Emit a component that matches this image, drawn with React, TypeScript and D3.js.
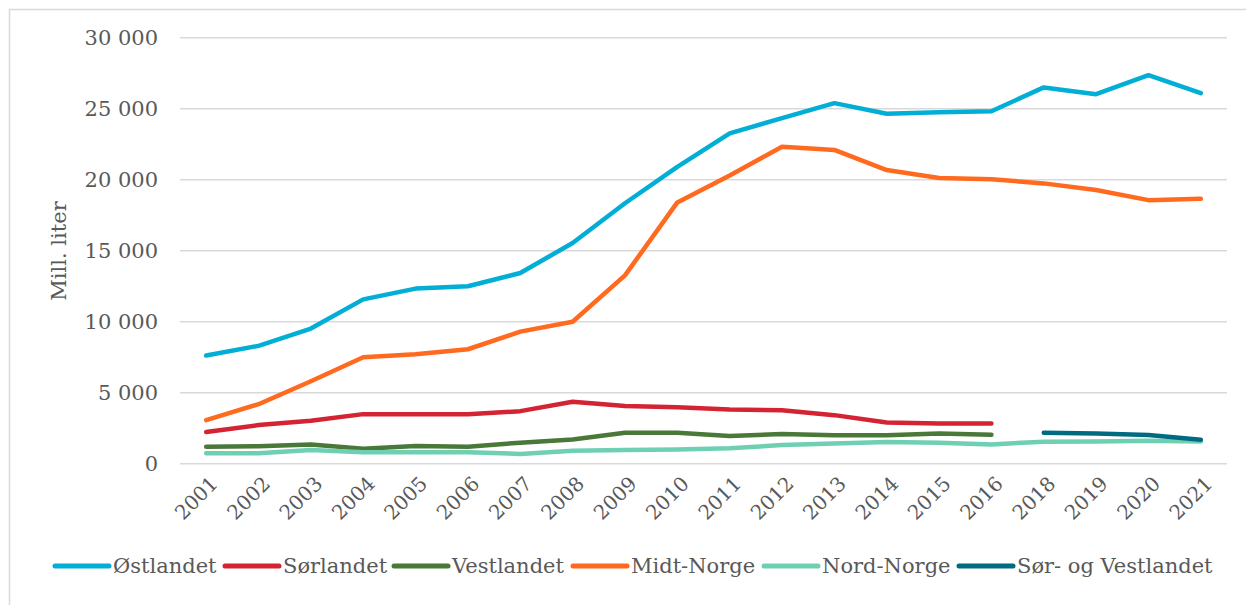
import React from "react";
import * as d3 from "d3";

const categories = ["2001","2002","2003","2004","2005","2006","2007","2008","2009","2010","2011","2012","2013","2014","2015","2016","2018","2019","2020","2021"];
const ostlandet = [7620, 8300, 9520, 11570, 12330, 12500, 13430, 15540, 18340, 20900, 23260, 24340, 25390, 24650, 24750, 24820, 26500, 26020, 27360, 26100];
const sorlandet = [2230, 2720, 3020, 3490, 3490, 3480, 3700, 4360, 4060, 3970, 3820, 3770, 3420, 2900, 2830, 2830, null, null, null, null];
const vestlandet = [1200, 1230, 1360, 1050, 1250, 1200, 1480, 1710, 2180, 2180, 1950, 2090, 2000, 2000, 2130, 2040, null, null, null, null];
const midtNorge = [3070, 4190, 5810, 7500, 7700, 8060, 9300, 10000, 13260, 18400, 20300, 22320, 22100, 20680, 20120, 20030, 19740, 19270, 18560, 18650];
const nordNorge = [730, 730, 960, 800, 810, 800, 690, 910, 960, 1000, 1080, 1310, 1430, 1520, 1480, 1360, 1550, 1570, 1620, 1560];
const sorOgVestlandet = [null, null, null, null, null, null, null, null, null, null, null, null, null, null, null, null, 2180, 2130, 2020, 1680];
const seriesNames = ["Østlandet", "Sørlandet", "Vestlandet", "Midt-Norge", "Nord-Norge", "Sør- og Vestlandet"];
const yTicks = [0, 5000, 10000, 15000, 20000, 25000, 30000];
const yTitle = "Mill. liter";

const seriesValues = [ostlandet, sorlandet, vestlandet, midtNorge, nordNorge, sorOgVestlandet];
const colors = ["#00AED6", "#D42332", "#4A7838", "#FF6A1F", "#6ECFB2", "#006A80"];
const legendX = [53, 223, 392, 571, 762, 957];

const W = 1246, H = 605;
const FONT = "'DejaVu Serif', Georgia, serif";
const TXT = "#595959";

const locale = d3.formatLocale({ decimal: ",", thousands: "\u00a0", grouping: [3], currency: ["", ""] });
const fmt = locale.format(",d");

export default function App() {
  const x = d3.scalePoint<string>().domain(categories).range([180, 1227]).padding(0.5);
  const y = d3.scaleLinear().domain([0, 30000]).range([463.7, 37.7]);
  const line = d3.line<number | null>()
    .defined((d) => d != null)
    .x((_, i) => x(categories[i]) as number)
    .y((d) => y(d as number));

  return (
    <svg width={W} height={H} style={{ position: "absolute", left: 0, top: 0, background: "#fff" }} fontFamily={FONT}>
      <rect x={0} y={0} width={W} height={H} fill="#fff" />
      <rect x={9.5} y={9.5} width={W + 50} height={H + 50} fill="none" stroke="#d9d9d9" strokeWidth={1.5} />
      {yTicks.map((t) => (
        <g key={t}>
          <line x1={180} x2={1227} y1={y(t)} y2={y(t)} stroke="#d9d9d9" strokeWidth={1.5} />
          <text x={158} y={y(t)} dy="0.35em" textAnchor="end" fontSize={21} fill={TXT}>{fmt(t)}</text>
        </g>
      ))}
      <text transform={`translate(66,251) rotate(-90)`} textAnchor="middle" fontSize={21} fill={TXT}>{yTitle}</text>
      {categories.map((c) => (
        <text key={c} transform={`translate(${(x(c) as number) + 8},480) rotate(-45)`} textAnchor="end" dy="0.35em" fontSize={20} fill={TXT}>{c}</text>
      ))}
      {seriesValues.map((vals, i) => (
        <path key={i} d={line(vals) || ""} fill="none" stroke={colors[i]} strokeWidth={4.5} strokeLinecap="round" strokeLinejoin="round" />
      ))}
      {seriesNames.map((n, i) => (
        <g key={n}>
          <line x1={legendX[i] + 2} x2={legendX[i] + 56} y1={566} y2={566} stroke={colors[i]} strokeWidth={5} strokeLinecap="round" />
          <text x={legendX[i] + 60} y={566} dy="0.35em" fontSize={21} fill={TXT}>{n}</text>
        </g>
      ))}
    </svg>
  );
}
